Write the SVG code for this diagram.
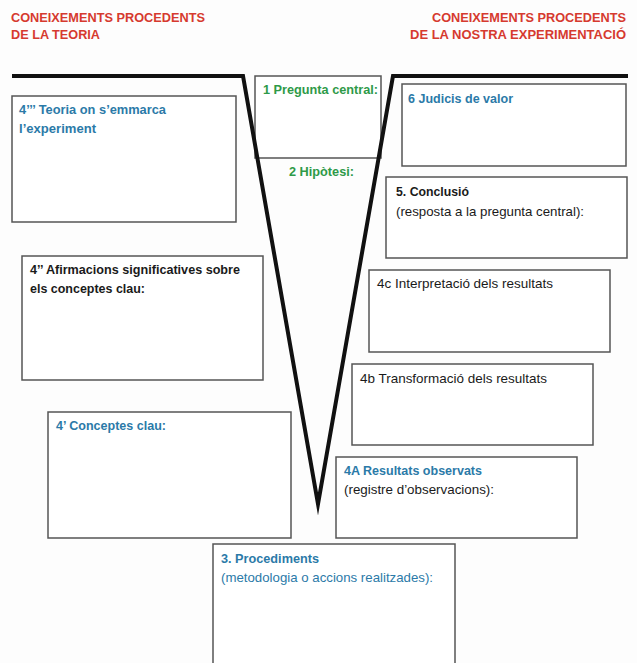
<svg xmlns="http://www.w3.org/2000/svg" width="637" height="663" viewBox="0 0 637 663">
<style>
  .box { fill: #ffffff; stroke: #555555; stroke-width: 1.5; }
  .t { font-family: "Liberation Sans", Arial, sans-serif; font-size: 13px; }
  .b { font-weight: bold; }
  .red { fill: #d63a2f; font-weight: bold; font-size: 13.5px; }
  .green { fill: #2e9a48; }
  .blue { fill: #2b7aa8; }
  .black { fill: #1a1a1a; }
  .vline { fill: none; stroke: #111111; stroke-width: 4; stroke-linejoin: miter; stroke-miterlimit: 20; }
</style>
<rect x="0" y="0" width="637" height="663" fill="#fdfdfd"/>

<g id="title-left">
  <text class="t red" x="11" y="22" textLength="194" lengthAdjust="spacingAndGlyphs">CONEIXEMENTS PROCEDENTS</text>
  <text class="t red" x="11" y="39" textLength="89" lengthAdjust="spacingAndGlyphs">DE LA TEORIA</text>
</g>
<g id="title-right">
  <text class="t red" x="432" y="22" textLength="194" lengthAdjust="spacingAndGlyphs">CONEIXEMENTS PROCEDENTS</text>
  <text class="t red" x="410" y="39" textLength="216" lengthAdjust="spacingAndGlyphs">DE LA NOSTRA EXPERIMENTACIÓ</text>
</g>

<g id="pregunta">
  <rect class="box" x="255" y="76" width="126" height="82"/>
  <text class="t b green" x="263" y="94" textLength="115" lengthAdjust="spacingAndGlyphs">1 Pregunta central:</text>
</g>
<g id="hipotesi">
  <text class="t b green" x="289" y="176" textLength="65" lengthAdjust="spacingAndGlyphs">2 Hipòtesi:</text>
</g>

<g id="connectors">
  <path class="vline" d="M12,76 L243,76 L318,504 L393,76 L628,76"/>
</g>

<g id="teoria">
  <rect class="box" x="12" y="96" width="224" height="126"/>
  <text class="t b blue" x="19" y="114" textLength="147" lengthAdjust="spacingAndGlyphs">4’’’ Teoria on s’emmarca</text>
  <text class="t b blue" x="19" y="133" textLength="77" lengthAdjust="spacingAndGlyphs">l’experiment</text>
</g>

<g id="judicis">
  <rect class="box" x="402" y="84" width="224" height="82"/>
  <text class="t b blue" x="408" y="103" textLength="105" lengthAdjust="spacingAndGlyphs">6 Judicis de valor</text>
</g>

<g id="conclusio">
  <rect class="box" x="386" y="177" width="241" height="81"/>
  <text class="t b black" x="396" y="196" textLength="73" lengthAdjust="spacingAndGlyphs">5. Conclusió</text>
  <text class="t black" x="396" y="216" textLength="188" lengthAdjust="spacingAndGlyphs">(resposta a la pregunta central):</text>
</g>

<g id="afirmacions">
  <rect class="box" x="22" y="256" width="241" height="124"/>
  <text class="t b black" x="30" y="274" textLength="210" lengthAdjust="spacingAndGlyphs">4’’ Afirmacions significatives sobre</text>
  <text class="t b black" x="30" y="293" textLength="115" lengthAdjust="spacingAndGlyphs">els conceptes clau:</text>
</g>

<g id="interpretacio">
  <rect class="box" x="369" y="270" width="241" height="82"/>
  <text class="t black" x="377" y="288" textLength="176" lengthAdjust="spacingAndGlyphs">4c Interpretació dels resultats</text>
</g>

<g id="transformacio">
  <rect class="box" x="352" y="364" width="241" height="81"/>
  <text class="t black" x="360" y="383" textLength="187" lengthAdjust="spacingAndGlyphs">4b Transformació dels resultats</text>
</g>

<g id="conceptes">
  <rect class="box" x="48" y="412" width="243" height="126"/>
  <text class="t b blue" x="56" y="430" textLength="110" lengthAdjust="spacingAndGlyphs">4’ Conceptes clau:</text>
</g>

<g id="resultats">
  <rect class="box" x="336" y="457" width="241" height="81"/>
  <text class="t b blue" x="344" y="475" textLength="138" lengthAdjust="spacingAndGlyphs">4A Resultats observats</text>
  <text class="t black" x="344" y="494" textLength="150" lengthAdjust="spacingAndGlyphs">(registre d’observacions):</text>
</g>

<g id="procediments">
  <rect class="box" x="213" y="544" width="242" height="125"/>
  <text class="t b blue" x="221" y="563" textLength="98" lengthAdjust="spacingAndGlyphs">3. Procediments</text>
  <text class="t blue" x="221" y="582" textLength="212" lengthAdjust="spacingAndGlyphs">(metodologia o accions realitzades):</text>
</g>
</svg>
